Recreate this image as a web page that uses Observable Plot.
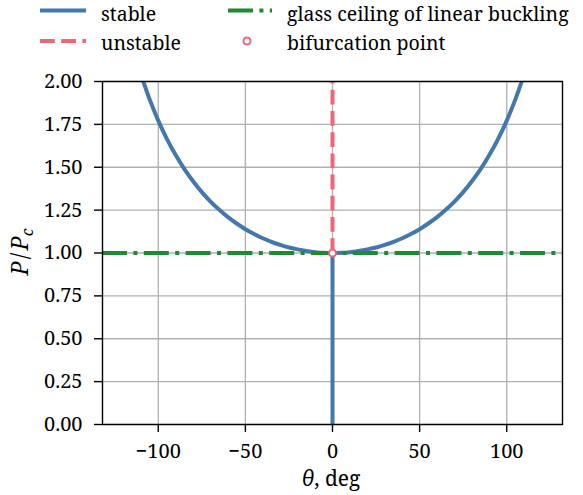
<!DOCTYPE html>
<html>
<head>
<meta charset="utf-8">
<script src="https://cdn.jsdelivr.net/npm/d3@7"></script>
<script src="https://cdn.jsdelivr.net/npm/@observablehq/plot@0.6"></script>
<style>
  html, body { margin: 0; padding: 0; background: #fff; }
  #legend { display: block; }
  #chart svg { display: block; }
</style>
</head>
<body>
<svg id="legend" width="583" height="60"></svg>
<div id="chart"></div>
<script>
// ---- data ----
const thetaDeg = [-110,-105,-100,-95,-90,-85,-80,-75,-70,-65,-60,-55,-50,-45,-40,-35,-30,-25,-20,-15,-10,-5,0,5,10,15,20,25,30,35,40,45,50,55,60,65,70,75,80,85,90,95,100,105,110];
const stableLoad = [2.043,1.897,1.772,1.664,1.571,1.489,1.418,1.355,1.300,1.252,1.209,1.172,1.139,1.111,1.086,1.065,1.047,1.032,1.021,1.012,1.005,1.001,1.000,1.001,1.005,1.012,1.021,1.032,1.047,1.065,1.086,1.111,1.139,1.172,1.209,1.252,1.300,1.355,1.418,1.489,1.571,1.664,1.772,1.897,2.043];
const trivialTheta = [0, 0];
const trivialStableLoad = [0, 1];
const trivialUnstableLoad = [1, 2];
const ceilingLoad = [1];
const bifTheta = [0];
const bifLoad = [1];
const xTicks = [-100, -50, 0, 50, 100];
const yTicks = [0, 0.25, 0.5, 0.75, 1, 1.25, 1.5, 1.75, 2];
const legendLabels = ["stable", "unstable", "glass ceiling of linear buckling", "bifurcation point"];

const BLUE = "#4477AA", RED = "#EE6677", GREEN = "#228833";
const FONT = "'Noto Serif', serif";

const curveData = thetaDeg.map((t, i) => ({t, p: stableLoad[i]}));
const stableTrivial = trivialTheta.map((t, i) => ({t, p: trivialStableLoad[i]}));
const unstableTrivial = trivialTheta.map((t, i) => ({t, p: trivialUnstableLoad[i]}));
const bif = bifTheta.map((t, i) => ({t, p: bifLoad[i]}));

const fmtX = d => d < 0 ? "\u2212" + Math.abs(d) : String(d);

const plot = Plot.plot({
  width: 583,
  height: 435,
  marginTop: 21,
  marginLeft: 102,
  marginRight: 21,
  marginBottom: 71,
  style: {fontFamily: FONT, fontSize: "20px", color: "black", background: "white"},
  x: {domain: [-132, 132], label: null},
  y: {domain: [0, 2], label: null},
  marks: [
    Plot.gridX(xTicks, {stroke: "#b0b0b0", strokeOpacity: 1, strokeWidth: 1.3}),
    Plot.gridY(yTicks, {stroke: "#b0b0b0", strokeOpacity: 1, strokeWidth: 1.3}),
    Plot.line(curveData, {x: "t", y: "p", stroke: BLUE, strokeWidth: 4, curve: "catmull-rom", clip: true}),
    Plot.line(stableTrivial, {x: "t", y: "p", stroke: BLUE, strokeWidth: 4, strokeLinecap: "butt"}),
    Plot.line(unstableTrivial, {x: "t", y: "p", stroke: RED, strokeWidth: 4, strokeDasharray: "14.8,6.4", strokeLinecap: "butt"}),
    Plot.ruleY(ceilingLoad, {stroke: GREEN, strokeWidth: 4, strokeDasharray: "25,6.4,4,6.4"}),
    Plot.dot(bif, {x: "t", y: "p", r: 3.5, fill: "white", stroke: RED, strokeWidth: 2}),
    Plot.frame({stroke: "black", strokeWidth: 1.4}),
    Plot.axisX(xTicks, {tickSize: 8, tickPadding: 11, tickFormat: fmtX, fontSize: 20, strokeWidth: 1.4, label: null}),
    Plot.axisY(yTicks, {tickSize: 8, tickPadding: 12, tickFormat: d3.format(".2f"), fontSize: 20, strokeWidth: 1.4, label: null})
  ]
});
document.getElementById("chart").appendChild(plot);

// axis titles with italics
const svg = d3.select(plot);
const xl = svg.append("text")
  .attr("x", 331).attr("y", 426)
  .attr("text-anchor", "middle")
  .attr("font-family", FONT).attr("font-size", 21).attr("fill", "black");
xl.append("tspan").attr("font-style", "italic").text("\u03b8");
xl.append("tspan").text(", deg");

const yl = svg.append("text")
  .attr("transform", "translate(28,192) rotate(-90)")
  .attr("text-anchor", "middle")
  .attr("font-family", FONT).attr("font-size", 23).attr("fill", "black");
yl.append("tspan").attr("font-style", "italic").text("P");
yl.append("tspan").attr("dx", 2).text("/");
yl.append("tspan").attr("font-style", "italic").attr("dx", 2).text("P");
yl.append("tspan").attr("font-style", "italic").attr("font-size", 16).attr("dy", 5).text("c");

// legend
const lg = d3.select("#legend");
const items = [
  {x1: 40, x2: 86, y: 10.5, ty: 21, tx: 101, kind: "solid", color: BLUE, label: legendLabels[0]},
  {x1: 40, x2: 86, y: 41, ty: 49.5, tx: 101, kind: "dash", color: RED, label: legendLabels[1]},
  {x1: 228, x2: 272, y: 10.5, ty: 21, tx: 287, kind: "dashdot", color: GREEN, label: legendLabels[2]},
  {x1: 228, x2: 272, y: 41, ty: 49.5, tx: 287, kind: "dot", color: RED, label: legendLabels[3]}
];
for (const it of items) {
  if (it.kind === "dot") {
    lg.append("circle").attr("cx", 247).attr("cy", it.y).attr("r", 3.5)
      .attr("fill", "white").attr("stroke", it.color).attr("stroke-width", 2);
  } else {
    const l = lg.append("line").attr("x1", it.x1).attr("x2", it.x2).attr("y1", it.y).attr("y2", it.y)
      .attr("stroke", it.color).attr("stroke-width", 4);
    if (it.kind === "dash") l.attr("stroke-dasharray", "14.8,6.4");
    if (it.kind === "dashdot") l.attr("stroke-dasharray", "25,6.4,4,6.4");
  }
  lg.append("text").attr("x", it.tx).attr("y", it.ty)
    .attr("font-family", FONT).attr("font-size", 19.5)
    .attr("fill", "black").text(it.label);
}
</script>
</body>
</html>
